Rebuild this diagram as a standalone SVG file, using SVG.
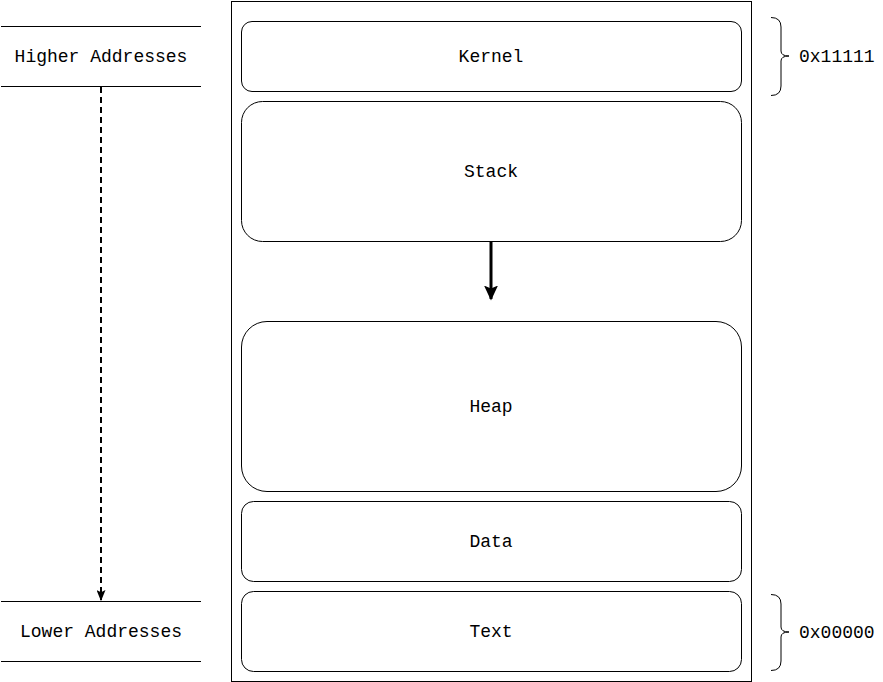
<svg xmlns="http://www.w3.org/2000/svg" width="883" height="682" viewBox="0 0 883 682">
<style>
.box{fill:#fff;stroke:#000;stroke-width:1}
.lbl{font-family:"Liberation Mono","Courier New",monospace;font-size:18px;fill:#000;text-anchor:middle}
.addr{font-family:"Liberation Mono","Courier New",monospace;font-size:18px;fill:#000;text-anchor:start}
.line{stroke:#000;stroke-width:1;fill:none}
.brace{stroke:#000;stroke-width:1;fill:none}
</style>
<defs>
<marker id="ah" viewBox="0 0 10 10" refX="9" refY="5" markerWidth="11" markerHeight="9" markerUnits="userSpaceOnUse" orient="auto" preserveAspectRatio="none">
<path d="M0,0 L10,5 L0,10 L2,5 Z" fill="#000"/>
</marker>
<marker id="ah2" viewBox="0 0 10 10" refX="9" refY="5" markerWidth="15" markerHeight="14" markerUnits="userSpaceOnUse" orient="auto" preserveAspectRatio="none">
<path d="M0,0 L10,5 L0,10 L2,5 Z" fill="#000"/>
</marker>
</defs>
<rect width="883" height="682" fill="#fff"/>
<g id="memory">
<rect class="box" x="231.5" y="1.5" width="520" height="680"/>
</g>
<g id="kernel">
<rect class="box" x="241.5" y="21.5" width="500" height="70" rx="10.5"/>
<text class="lbl" x="491" y="62">Kernel</text>
</g>
<g id="stack">
<rect class="box" x="241.5" y="101.5" width="500" height="140" rx="21"/>
<text class="lbl" x="491" y="177">Stack</text>
</g>
<g id="heap">
<rect class="box" x="241.5" y="321.5" width="500" height="170" rx="25.5"/>
<text class="lbl" x="491" y="412">Heap</text>
</g>
<g id="data">
<rect class="box" x="241.5" y="501.5" width="500" height="80" rx="12"/>
<text class="lbl" x="491" y="547">Data</text>
</g>
<g id="text">
<rect class="box" x="241.5" y="591.5" width="500" height="80" rx="12"/>
<text class="lbl" x="491" y="637">Text</text>
</g>
<g id="higher">
<line class="line" x1="1" y1="26.5" x2="201" y2="26.5"/>
<line class="line" x1="1" y1="86.5" x2="201" y2="86.5"/>
<text class="lbl" x="101" y="62">Higher Addresses</text>
</g>
<g id="lower">
<line class="line" x1="1" y1="601.5" x2="201" y2="601.5"/>
<line class="line" x1="1" y1="661.5" x2="201" y2="661.5"/>
<text class="lbl" x="101" y="637">Lower Addresses</text>
</g>
<g id="brace-top">
<path class="brace" d="M771,17.5 Q781,17.5 781,27 L781,51 Q781,56 789,56 Q781,56 781,61 L781,86 Q781,95.5 771,95.5"/>
<text class="addr" x="799" y="62">0x11111</text>
</g>
<g id="brace-bottom">
<path class="brace" d="M771,594.5 Q781,594.5 781,604 L781,627 Q781,632 789,632 Q781,632 781,637 L781,661 Q781,670.5 771,670.5"/>
<text class="addr" x="799" y="638">0x00000</text>
</g>
<g id="connectors">
<line x1="491" y1="242" x2="491" y2="299" stroke="#000" stroke-width="3" marker-end="url(#ah2)"/>
<line x1="101" y1="87" x2="101" y2="600" stroke="#000" stroke-width="2" stroke-dasharray="6,4" marker-end="url(#ah)"/>
</g>
</svg>
